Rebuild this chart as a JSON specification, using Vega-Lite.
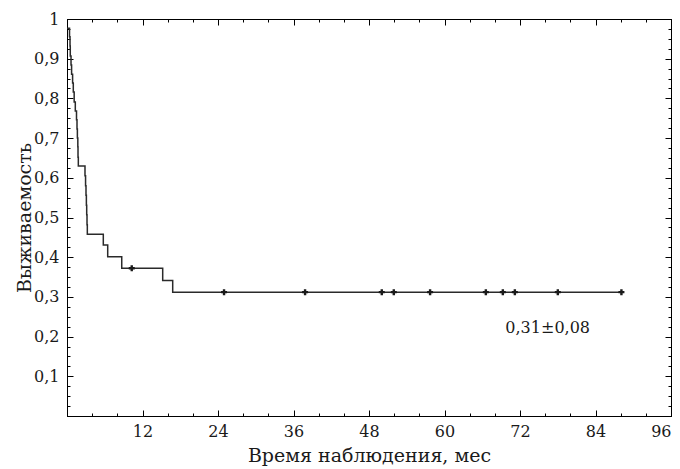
{
  "$schema": "https://vega.github.io/schema/vega-lite/v6.json",
  "width": 604,
  "height": 397,
  "autosize": "none",
  "padding": {"left": 67, "top": 19, "right": 9, "bottom": 53},
  "background": "white",
  "config": {
    "view": {"stroke": "black", "strokeWidth": 1},
    "font": "DejaVu Serif",
    "axis": {
      "labelFont": "DejaVu Serif",
      "titleFont": "DejaVu Serif",
      "labelFontSize": 16,
      "titleFontSize": 19,
      "titleFontWeight": "normal",
      "labelColor": "#1a1a1a",
      "titleColor": "#1a1a1a",
      "domainColor": "black",
      "tickColor": "black",
      "grid": false
    }
  },
  "datasets": {
    "curve": [
      {"t": 0.0, "s": 0.977},
      {"t": 0.40, "s": 0.955},
      {"t": 0.48, "s": 0.932},
      {"t": 0.52, "s": 0.907},
      {"t": 0.64, "s": 0.884},
      {"t": 0.73, "s": 0.861},
      {"t": 0.89, "s": 0.839},
      {"t": 1.00, "s": 0.816},
      {"t": 1.14, "s": 0.791},
      {"t": 1.32, "s": 0.768},
      {"t": 1.51, "s": 0.746},
      {"t": 1.59, "s": 0.723},
      {"t": 1.65, "s": 0.700},
      {"t": 1.72, "s": 0.678},
      {"t": 1.75, "s": 0.652},
      {"t": 1.80, "s": 0.630},
      {"t": 2.86, "s": 0.605},
      {"t": 2.95, "s": 0.580},
      {"t": 3.02, "s": 0.556},
      {"t": 3.08, "s": 0.531},
      {"t": 3.13, "s": 0.507},
      {"t": 3.18, "s": 0.482},
      {"t": 3.23, "s": 0.458},
      {"t": 5.77, "s": 0.431},
      {"t": 6.47, "s": 0.401},
      {"t": 8.70, "s": 0.372},
      {"t": 15.21, "s": 0.341},
      {"t": 16.80, "s": 0.312},
      {"t": 88.12, "s": 0.312}
    ],
    "censored": [
      {"t": 10.29, "s": 0.372},
      {"t": 24.96, "s": 0.312},
      {"t": 37.84, "s": 0.312},
      {"t": 50.03, "s": 0.312},
      {"t": 51.94, "s": 0.312},
      {"t": 57.71, "s": 0.312},
      {"t": 66.57, "s": 0.312},
      {"t": 69.27, "s": 0.312},
      {"t": 71.18, "s": 0.312},
      {"t": 78.01, "s": 0.312},
      {"t": 88.12, "s": 0.312}
    ],
    "note": [
      {"t": 76.4, "s": 0.222, "label": "0,31±0,08"}
    ]
  },
  "resolve": {"axis": {"x": "independent", "y": "independent"}},
  "layer": [
    {
      "data": {"name": "curve"},
      "mark": {"type": "line", "interpolate": "step-after", "color": "#2a2a2a", "strokeWidth": 1.5},
      "encoding": {
        "x": {
          "field": "t", "type": "quantitative",
          "scale": {"domain": [0, 96], "nice": false, "zero": false},
          "axis": {
            "orient": "bottom",
            "title": "Время наблюдения, мес",
            "values": [0,4,8,12,16,20,24,28,32,36,40,44,48,52,56,60,64,68,72,76,80,84,88,92,96],
            "labelExpr": "datum.value > 0 && datum.value % 12 === 0 ? datum.value : ''",
            "tickSize": {"condition": {"test": "datum.value % 12 === 0", "value": -6}, "value": -3},
            "labelPadding": 13,
            "labelOverlap": false,
            "labelFlush": true,
            "titlePadding": 4
          }
        },
        "y": {
          "field": "s", "type": "quantitative",
          "scale": {"domain": [0, 1], "nice": false, "zero": false},
          "axis": {
            "orient": "left",
            "title": "Выживаемость",
            "values": [0,0.025,0.05,0.075,0.1,0.125,0.15,0.175,0.2,0.225,0.25,0.275,0.3,0.325,0.35,0.375,0.4,0.425,0.45,0.475,0.5,0.525,0.55,0.575,0.6,0.625,0.65,0.675,0.7,0.725,0.75,0.775,0.8,0.825,0.85,0.875,0.9,0.925,0.95,0.975,1],
            "labelExpr": "abs(datum.value*10 - round(datum.value*10)) < 0.001 && datum.value > 0 ? (datum.value === 1 ? '1' : replace(format(datum.value, '.1f'), '.', ',')) : ''",
            "tickSize": {"condition": {"test": "abs(datum.value*10 - round(datum.value*10)) < 0.001", "value": -6}, "value": -3},
            "labelPadding": 14,
            "labelOverlap": false,
            "labelFlush": false,
            "titlePadding": -1
          }
        }
      }
    },
    {
      "data": {"name": "censored"},
      "mark": {"type": "point", "shape": "cross", "filled": true, "size": 36, "color": "#1a1a1a", "opacity": 1},
      "encoding": {
        "x": {
          "field": "t", "type": "quantitative",
          "axis": {
            "orient": "top",
            "title": null,
            "values": [0,4,8,12,16,20,24,28,32,36,40,44,48,52,56,60,64,68,72,76,80,84,88,92,96],
            "labels": false,
            "tickSize": {"condition": {"test": "datum.value % 12 === 0", "value": -6}, "value": -3}
          }
        },
        "y": {
          "field": "s", "type": "quantitative",
          "axis": {
            "orient": "right",
            "title": null,
            "values": [0,0.025,0.05,0.075,0.1,0.125,0.15,0.175,0.2,0.225,0.25,0.275,0.3,0.325,0.35,0.375,0.4,0.425,0.45,0.475,0.5,0.525,0.55,0.575,0.6,0.625,0.65,0.675,0.7,0.725,0.75,0.775,0.8,0.825,0.85,0.875,0.9,0.925,0.95,0.975,1],
            "labels": false,
            "tickSize": {"condition": {"test": "abs(datum.value*10 - round(datum.value*10)) < 0.001", "value": -6}, "value": -3}
          }
        }
      }
    },
    {
      "data": {"name": "note"},
      "mark": {"type": "text", "font": "DejaVu Serif", "fontSize": 16, "color": "#1a1a1a", "align": "center", "baseline": "middle"},
      "encoding": {
        "x": {"field": "t", "type": "quantitative", "axis": null},
        "y": {"field": "s", "type": "quantitative", "axis": null},
        "text": {"field": "label"}
      }
    }
  ]
}
